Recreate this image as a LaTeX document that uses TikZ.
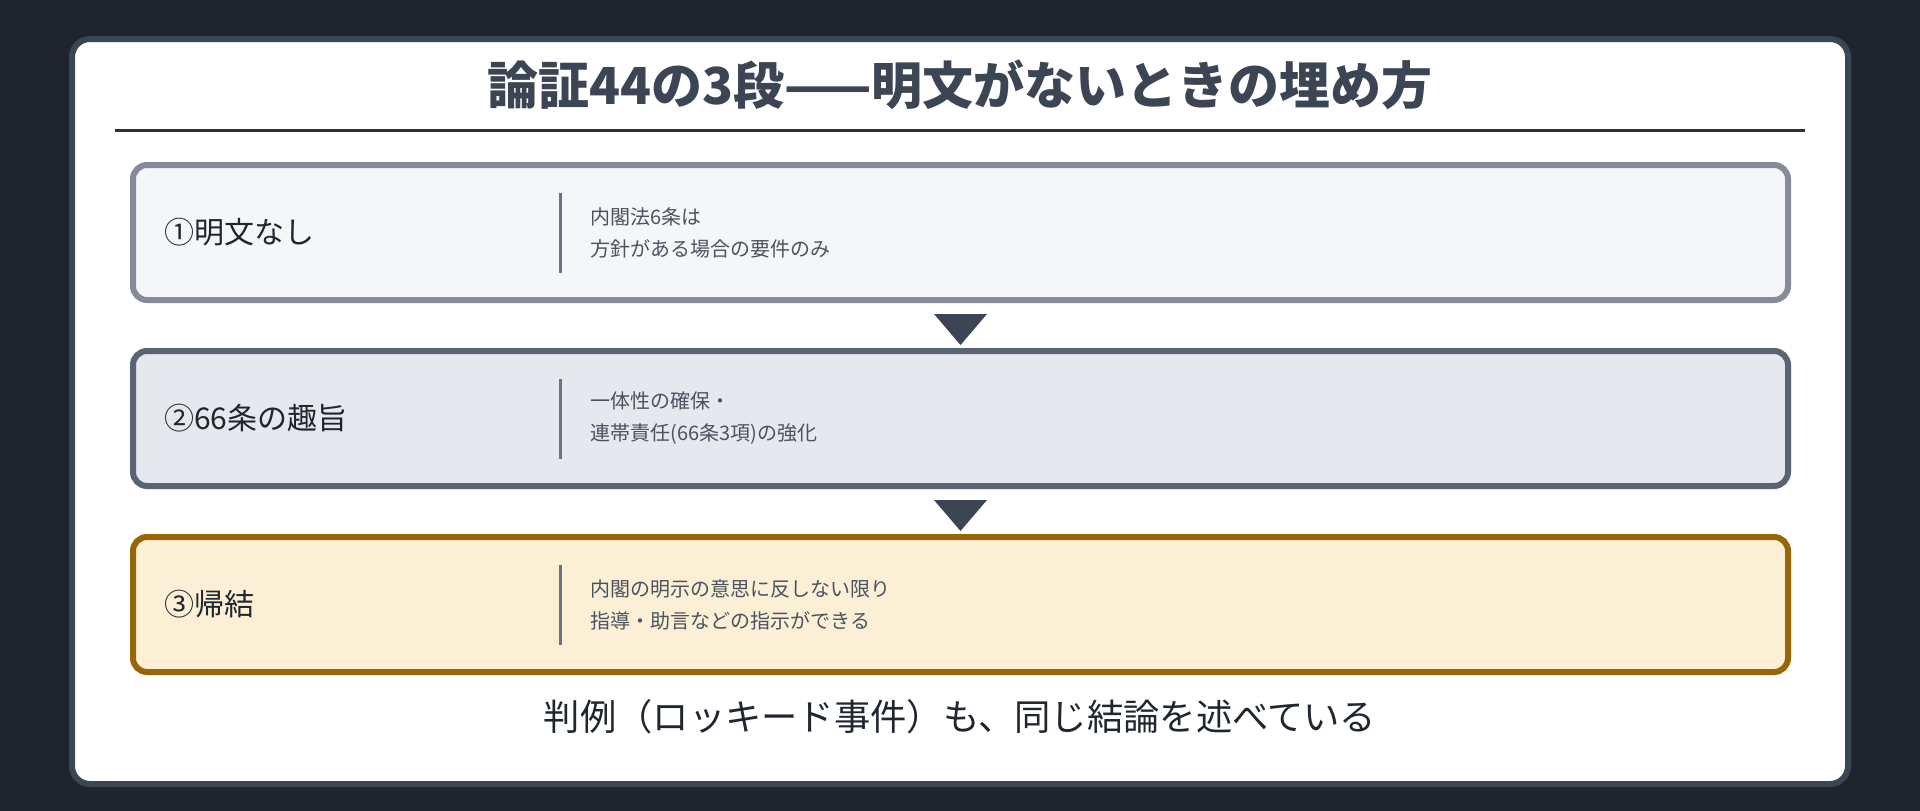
\documentclass[tikz,border=0pt]{standalone}
\usepackage{fontspec}
\setmainfont{Noto Sans CJK JP}
\usetikzlibrary{positioning}
\definecolor{bgc}{HTML}{1E252F}
\definecolor{cardc}{HTML}{3B4554}
\definecolor{rulec}{HTML}{2A2F3A}
\definecolor{titlec}{HTML}{3B4554}
\definecolor{textc}{HTML}{1F2630}
\definecolor{descc}{HTML}{4B5360}
\definecolor{divc}{HTML}{6B7280}
\definecolor{fillA}{HTML}{F5F6F8}
\definecolor{drawA}{HTML}{848C99}
\definecolor{fillB}{HTML}{E5E8ED}
\definecolor{drawB}{HTML}{5A6473}
\definecolor{fillC}{HTML}{FBEFD6}
\definecolor{drawC}{HTML}{966607}
\tikzset{
  stepbox/.style={rounded corners=14pt, line width=6pt, minimum width=1655pt, minimum height=135pt, inner sep=0pt},
  lbl/.style={anchor=west, inner sep=0pt, text=textc, font=\fontsize{30pt}{34pt}\selectfont},
  desc/.style={anchor=west, inner sep=0pt, align=left, text=descc, font=\fontsize{20pt}{32pt}\selectfont},
  divline/.style={draw=divc, line width=3pt},
  tri/.style={fill=cardc},
}
\begin{document}
\begin{tikzpicture}[x=1pt, y=-1pt]
            % page
            \useasboundingbox (0,0) rectangle (1920,811);
            \fill[bgc] (0,0) rectangle (1920,811);
            % card
            \draw[cardc, fill=white, line width=6pt, rounded corners=18pt] (72,39) rectangle (1848,784);
            % title
            \node[text=titlec, font=\fontsize{51pt}{57pt}\selectfont\bfseries] (title) at (960,85) {論証44の3段——明文がないときの埋め方};
            \draw[rulec, line width=3pt] (115,130) -- (1805,130);
            % 1st step
            \node[stepbox, fill=fillA, draw=drawA] (b1) at (960.5,232.5) {};
            \node[lbl, right=34pt of b1.west] (l1) {①明文なし};
            \draw[divline] ([xshift=430.5pt,yshift=40pt]b1.west) -- ([xshift=430.5pt,yshift=-40pt]b1.west);
            \node[desc, right=460.5pt of b1.west] (d1) {内閣法6条は\\方針がある場合の要件のみ};
            % 2nd step
            \node[stepbox, fill=fillB, draw=drawB, below=45pt of b1] (b2) {};
            \node[lbl, right=34pt of b2.west] (l2) {②66条の趣旨};
            \draw[divline] ([xshift=430.5pt,yshift=40pt]b2.west) -- ([xshift=430.5pt,yshift=-40pt]b2.west);
            \node[desc, right=460.5pt of b2.west] (d2) {一体性の確保・\\連帯責任(66条3項)の強化};
            % 3rd step
            \node[stepbox, fill=fillC, draw=drawC, below=45pt of b2] (b3) {};
            \node[lbl, right=34pt of b3.west] (l3) {③帰結};
            \draw[divline] ([xshift=430.5pt,yshift=40pt]b3.west) -- ([xshift=430.5pt,yshift=-40pt]b3.west);
            \node[desc, right=460.5pt of b3.west] (d3) {内閣の明示の意思に反しない限り\\指導・助言などの指示ができる};
            % arrows between steps
            \fill[tri] ([xshift=-26.5pt,yshift=-11pt]b1.south) -- ([xshift=26.5pt,yshift=-11pt]b1.south) -- ([yshift=-42pt]b1.south) -- cycle;
            \fill[tri] ([xshift=-26.5pt,yshift=-11pt]b2.south) -- ([xshift=26.5pt,yshift=-11pt]b2.south) -- ([yshift=-42pt]b2.south) -- cycle;
            % conclusion
            \node[text=textc, font=\fontsize{36.3pt}{40pt}\selectfont] (concl) at (960,717) {判例（ロッキード事件）も、同じ結論を述べている};
\end{tikzpicture}
\end{document}
